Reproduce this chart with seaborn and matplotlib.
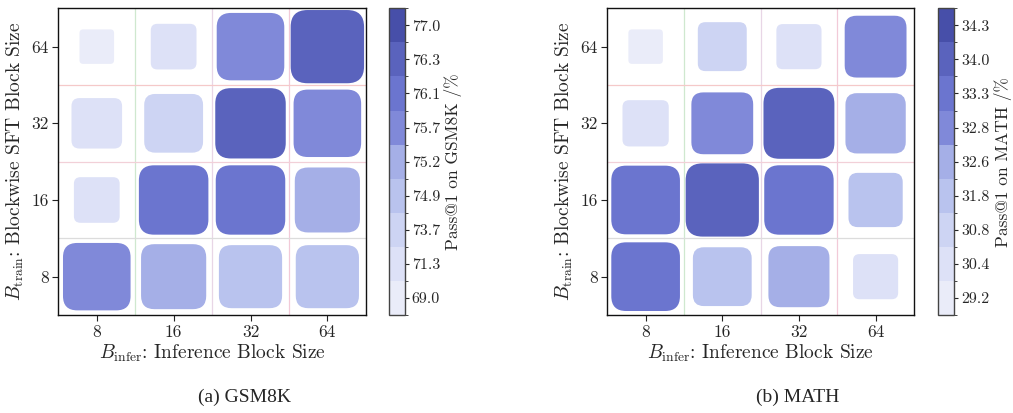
import matplotlib

matplotlib.use("Agg")
import matplotlib.pyplot as plt
import numpy as np
import seaborn as sns
from matplotlib.cm import ScalarMappable
from matplotlib.colors import BoundaryNorm, ListedColormap
from matplotlib.patches import FancyBboxPatch
from matplotlib.ticker import FixedLocator

block_sizes = ["8", "16", "32", "64"]

# rows: B_train = 8, 16, 32, 64 (bottom to top); columns: B_infer = 8, 16, 32, 64
gsm8k_scores = [
    [75.8, 75.3, 74.9, 74.9],
    [71.3, 76.2, 76.2, 75.3],
    [72.3, 74.0, 76.4, 75.8],
    [69.0, 71.3, 75.8, 77.0],
]
gsm8k_levels = [69.0, 71.3, 73.7, 74.9, 75.2, 75.7, 76.1, 76.3, 77.0]

math_scores = [
    [33.7, 32.4, 32.7, 30.6],
    [33.7, 34.3, 33.8, 31.8],
    [30.75, 32.8, 34.0, 32.6],
    [29.2, 31.1, 30.6, 32.8],
]
math_levels = [29.2, 30.4, 30.8, 31.8, 32.6, 32.8, 33.3, 34.0, 34.3]

palette = [
    "#eaecf9", "#dde1f7", "#cdd4f3", "#b9c3ee", "#a5afe7",
    "#8089d9", "#6b75cf", "#5a63bd", "#474fa9",
]
vline_colors = ["#cfe8cf", "#e8d6e6", "#f2cad8"]
hline_colors = ["#dcdcdc", "#f2d0d8", "#f5c9c9"]

sns.set_theme(style="ticks")
plt.rcParams["font.family"] = ["cmr10"]
plt.rcParams["mathtext.fontset"] = "cm"
plt.rcParams["axes.formatter.use_mathtext"] = True
plt.rcParams["axes.unicode_minus"] = False


def draw_panel(fig, ax, cax, scores, levels, cbar_label):
    values = np.asarray(scores, dtype=float)
    lo, hi = values.min(), values.max()
    bins = np.clip(np.searchsorted(levels, values, side="right") - 1, 0, len(levels) - 2)

    for pos, color in zip([0.5, 1.5, 2.5], vline_colors):
        ax.axvline(pos, color=color, linewidth=0.9, zorder=0)
    for pos, color in zip([0.5, 1.5, 2.5], hline_colors):
        ax.axhline(pos, color=color, linewidth=0.9, zorder=0)

    for r in range(values.shape[0]):
        for c in range(values.shape[1]):
            s = 0.45 + 0.505 * (values[r, c] - lo) / (hi - lo)
            box = FancyBboxPatch(
                (c - s / 2, r - s / 2), s, s,
                boxstyle=f"round,pad=0,rounding_size={0.24 * s * s:.4f}",
                facecolor=palette[bins[r, c]], edgecolor="none", linewidth=0, zorder=2,
            )
            ax.add_patch(box)

    ax.set_xlim(-0.5, 3.5)
    ax.set_ylim(-0.5, 3.5)
    ax.set_xticks(range(4))
    ax.set_yticks(range(4))
    ax.set_xticklabels(block_sizes)
    ax.set_yticklabels(block_sizes)
    ax.tick_params(axis="both", labelsize=12.5, length=4, width=0.8, color="#222222", pad=3)
    for spine in ax.spines.values():
        spine.set_visible(True)
        spine.set_color("#111111")
        spine.set_linewidth(1.0)
    ax.set_xlabel(r"$B_{\mathrm{infer}}$: Inference Block Size", fontsize=14, labelpad=2)
    ax.set_ylabel(r"$B_{\mathrm{train}}$: Blockwise SFT Block Size", fontsize=14, labelpad=4)

    sm = ScalarMappable(norm=BoundaryNorm(np.arange(-0.5, len(levels)), len(levels)),
                        cmap=ListedColormap(palette))
    cb = fig.colorbar(sm, cax=cax, ticks=range(len(levels)))
    cb.set_ticklabels([f"{v:.1f}" for v in levels])
    cb.ax.yaxis.set_minor_locator(FixedLocator(np.arange(-0.5, len(levels))))
    cb.ax.tick_params(which="major", labelsize=11.5, length=3, width=0.8, pad=2)
    cb.ax.tick_params(which="minor", length=2, width=0.6)
    cb.outline.set_edgecolor("#444444")
    cb.outline.set_linewidth(1.0)
    cb.set_label(cbar_label, fontsize=12.5, labelpad=3)


fig = plt.figure(figsize=(10.13, 4.13), dpi=100)
ax_a = fig.add_axes([0.0576, 0.2373, 0.3035, 0.7426])
cax_a = fig.add_axes([0.3837, 0.2373, 0.0158, 0.7426])
ax_b = fig.add_axes([0.5995, 0.2373, 0.3027, 0.7426])
cax_b = fig.add_axes([0.9263, 0.2373, 0.0158, 0.7426])

draw_panel(fig, ax_a, cax_a, gsm8k_scores, gsm8k_levels, "Pass@1 on GSM8K /%")
draw_panel(fig, ax_b, cax_b, math_scores, math_levels, "Pass@1 on MATH /%")

fig.text(0.241, 1 - 397 / 413, "(a) GSM8K", family="Liberation Serif", fontsize=14,
         ha="center", va="center")
fig.text(0.787, 1 - 397 / 413, "(b) MATH", family="Liberation Serif", fontsize=14,
         ha="center", va="center")

fig.savefig("out.png", dpi=100)
plt.close(fig)
